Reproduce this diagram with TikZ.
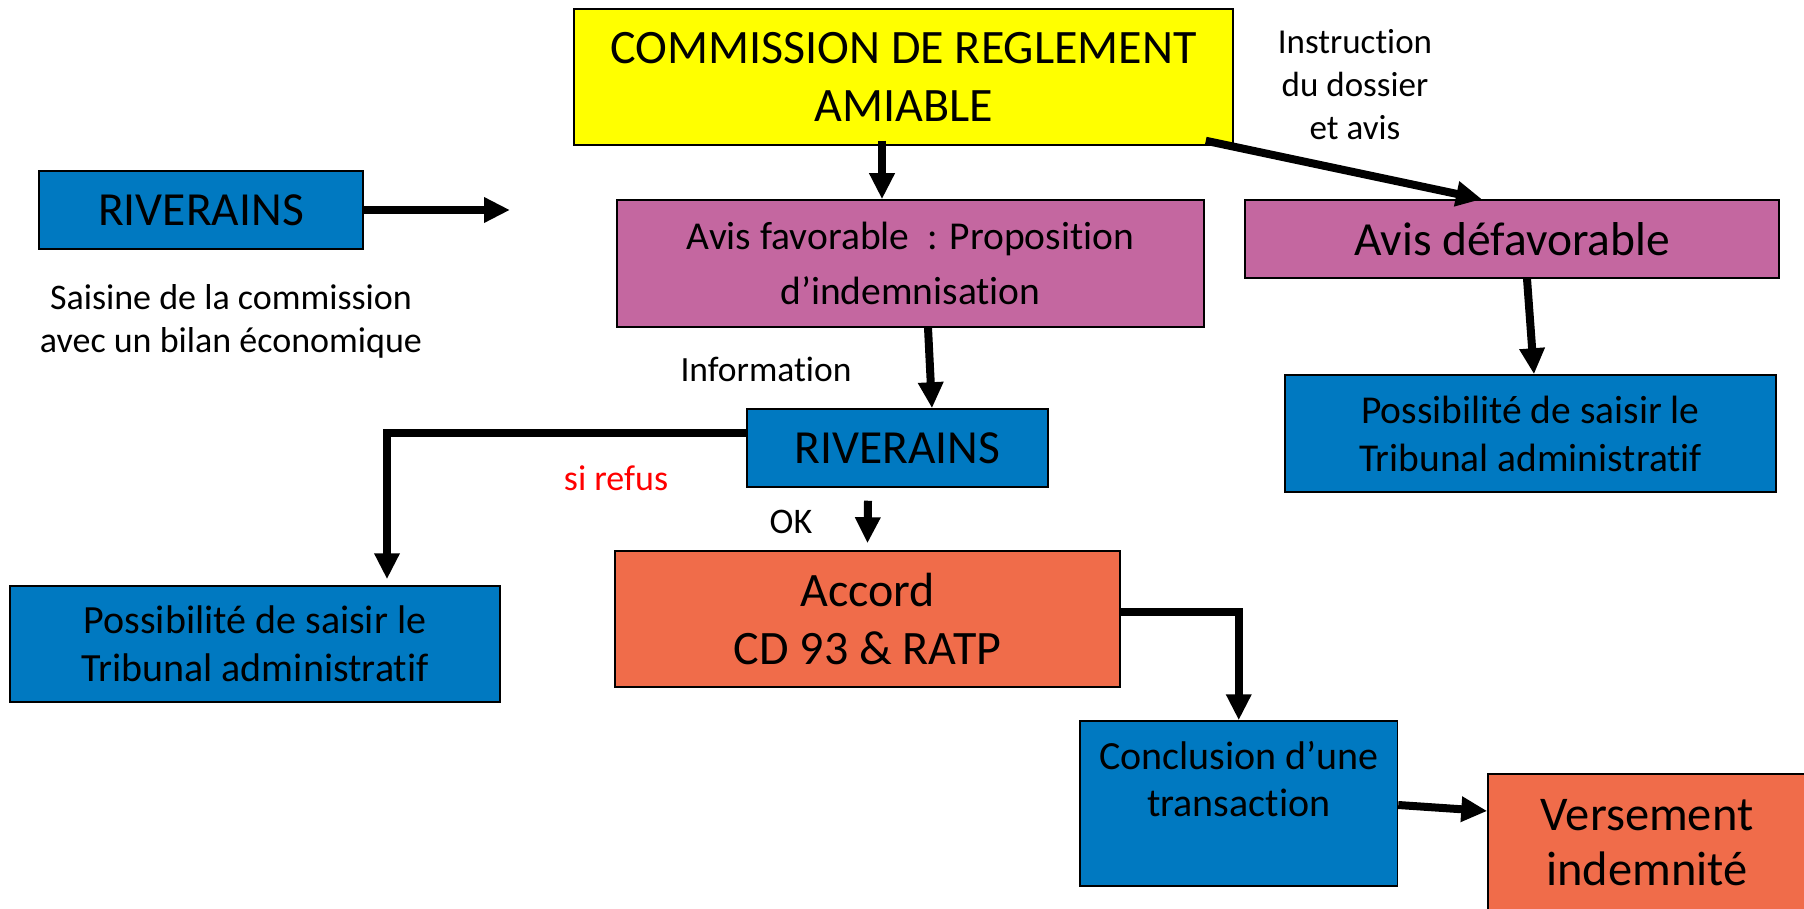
\documentclass[tikz,border=0pt]{standalone}
\usepackage{fontspec}
\setmainfont[Ligatures={NoCommon}]{Carlito}
\usetikzlibrary{arrows.meta,calc}
\definecolor{cyel}{HTML}{FFFF00}
\definecolor{cblue}{HTML}{0079C1}
\definecolor{cmag}{HTML}{C467A0}
\definecolor{corg}{HTML}{F06C4A}
\definecolor{cred}{HTML}{FF0000}
\begin{document}
\begin{tikzpicture}[x=1pt,y=-1pt,
 box/.style={draw=black, line width=1.5pt, inner sep=0pt, align=center, anchor=center},
 arr/.style={line width=8pt, -{Triangle[length=26pt,width=24pt]}},
 fs/.style 2 args={font=\fontsize{#1}{#2}\selectfont},
 txt/.style={inner sep=0pt, align=center}
]
\useasboundingbox[fill=white] (0,0) rectangle (1804,909);

% boxes
\node[box, fill=cyel, minimum width=659pt, minimum height=136pt, fs={48}{58}] (yellow) at (903.5,77) {COMMISSION DE REGLEMENT\\AMIABLE};
\node[box, fill=cblue, minimum width=324pt, minimum height=78pt, fs={47.5}{56}] (riv1) at (201,210) {RIVERAINS};
\node[box, fill=cmag, minimum width=587pt, minimum height=127pt, fs={39.5}{55}] (mag1) at (910.5,263.5) {Avis favorable\ \ : Proposition\\d’indemnisation};
\node[box, fill=cmag, minimum width=534pt, minimum height=78pt, fs={47.5}{55}] (mag2) at (1512,239) {Avis défavorable};
\node[box, fill=cblue, minimum width=491pt, minimum height=117pt, fs={39.5}{48}] (rblue) at (1530.5,433.5) {Possibilité de saisir le\\Tribunal administratif};
\node[box, fill=cblue, minimum width=301pt, minimum height=78pt, fs={47.5}{55}] (riv2) at (897.5,448) {RIVERAINS};
\node[box, fill=corg, minimum width=505pt, minimum height=136pt, fs={48}{58}] (accord) at (867.5,619) {Accord\\CD 93 \& RATP};
\node[box, fill=cblue, minimum width=490pt, minimum height=116pt, fs={40}{48}] (lblue) at (255,644) {Possibilité de saisir le\\Tribunal administratif};
\node[box, fill=cblue, minimum width=317.5pt, minimum height=165pt] (concl) at (1238.75,803.5) {};
\node[txt, fs={40}{47}] (conclT) at (1238.75,779.5) {Conclusion d’une\\transaction};
\node[box, fill=corg, minimum width=318pt, minimum height=137pt, fs={48.5}{55}] (vers) at (1647,842.5) {Versement\\indemnité};

% free labels
\node[txt, fs={36}{43}] (saisine) at (231,321) {Saisine de la commission\\avec un bilan économique};
\node[txt, fs={35.5}{40}, anchor=base] (info) at (766,381) {Information};
\node[txt, fs={35}{43}] (instr) at (1355,84.5) {Instruction\\du dossier\\et avis};
\node[txt, fs={36}{40}, text=cred, anchor=base] (refus) at (616,490) {si refus};
\node[txt, fs={36}{40}, anchor=base] (ok) at (791,533) {OK};

% connectors
\coordinate (rivEnd) at (510,210);
\draw[arr] (riv1.east) -- (rivEnd);
\draw[arr] ([xshift=-21.5pt,yshift=5pt]yellow.south) -- ([xshift=-28.5pt]mag1.north);
\draw[arr] ([xshift=-28pt,yshift=5pt]yellow.south east) -- ([xshift=-30pt]mag2.north);
\draw[arr] ([xshift=17.5pt]mag1.south) -- ([xshift=34.5pt]riv2.north);
\draw[arr] ([xshift=15pt]mag2.south) -- ([xshift=3.5pt]rblue.north);
\draw[arr] ([yshift=15pt]riv2.west) -| ([xshift=132pt,yshift=6pt]lblue.north);
\draw[arr] ([xshift=-29.5pt,yshift=-13pt]riv2.south) -- ([yshift=7pt]accord.north);
\draw[arr] ([yshift=7pt]accord.east) -| (concl.north);
\draw[arr] ([yshift=-1.5pt]concl.east) -- ([yshift=31.5pt]vers.west);
\end{tikzpicture}
\end{document}
